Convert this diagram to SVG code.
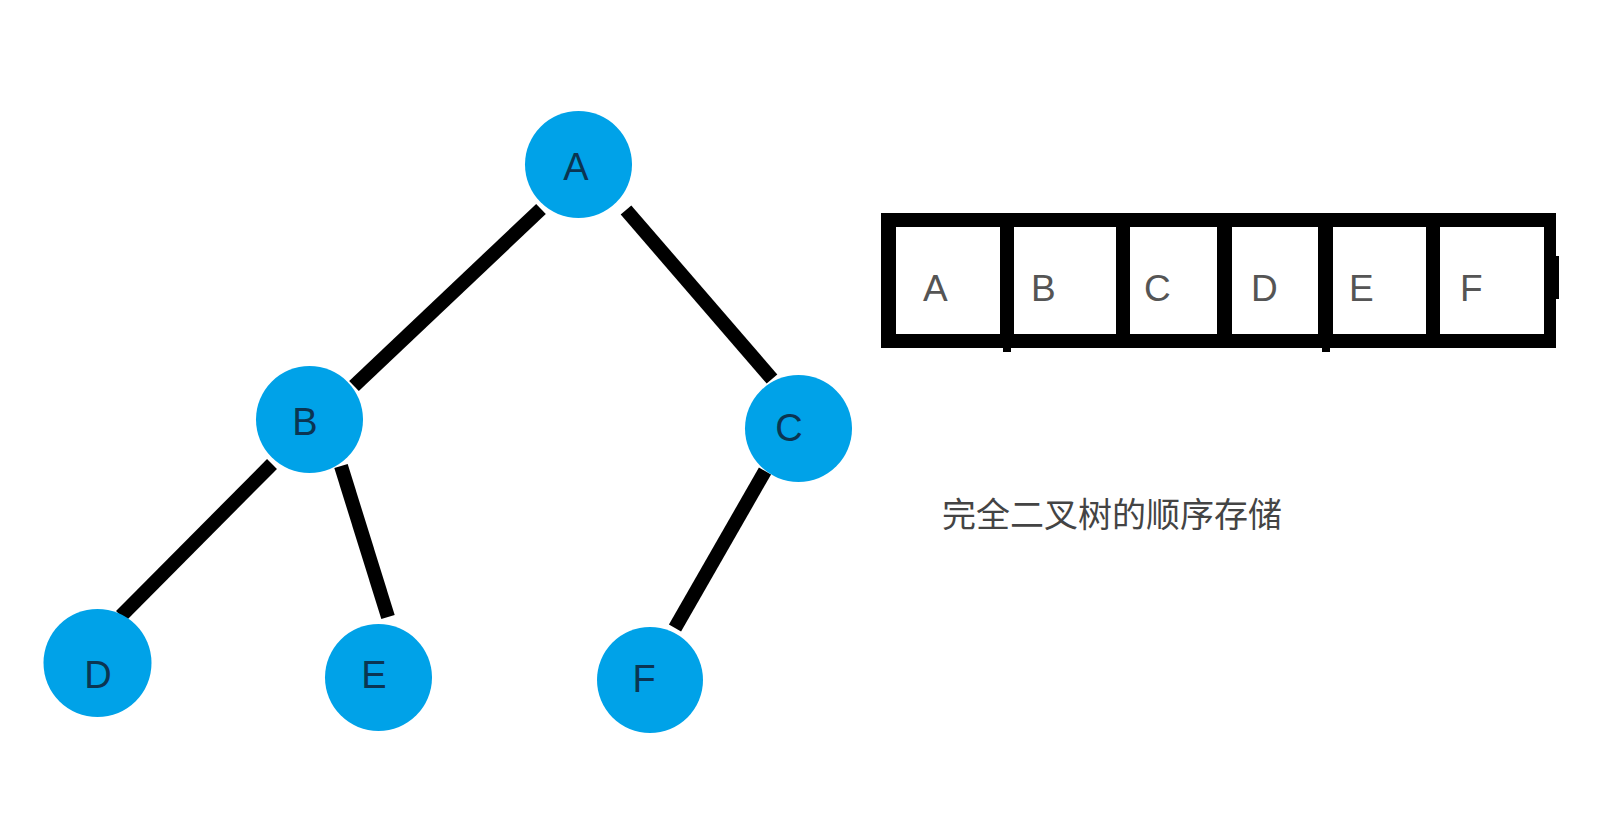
<svg xmlns="http://www.w3.org/2000/svg" width="1611" height="836" viewBox="0 0 1611 836">
<style>
.node{fill:#00a2e8}
.nl{font-family:"Liberation Sans",Arial,sans-serif;font-size:38px;fill:#0b3552;text-anchor:middle}
.edge{stroke:#000;stroke-width:14;stroke-linecap:butt}
.cell{fill:#fff}
.al{font-family:"Liberation Sans",Arial,sans-serif;font-size:37px;fill:#555}
.cap{font-family:"Noto Sans CJK SC",sans-serif;font-size:34px;fill:#444}
</style>
<rect width="1611" height="836" fill="#fff"/>
<g id="connectors">
<line class="edge" x1="541" y1="209" x2="354" y2="386"/>
<line class="edge" x1="626" y1="210" x2="772" y2="379"/>
<line class="edge" x1="272" y1="464" x2="121" y2="616"/>
<line class="edge" x1="341" y1="466" x2="388" y2="617"/>
<line class="edge" x1="765" y1="471" x2="675" y2="628"/>
</g>
<g id="node-A"><circle class="node" cx="578.5" cy="164.5" r="53.5"/><text class="nl" x="576" y="180">A</text></g>
<g id="node-B"><circle class="node" cx="309.5" cy="419.5" r="53.5"/><text class="nl" x="305" y="435">B</text></g>
<g id="node-C"><circle class="node" cx="798.5" cy="428.5" r="53.5"/><text class="nl" x="789" y="441">C</text></g>
<g id="node-D"><circle class="node" cx="97.5" cy="663" r="54"/><text class="nl" x="98" y="688">D</text></g>
<g id="node-E"><circle class="node" cx="378.5" cy="677.5" r="53.5"/><text class="nl" x="374" y="688">E</text></g>
<g id="node-F"><circle class="node" cx="650" cy="680" r="53"/><text class="nl" x="644" y="692">F</text></g>
<g id="array">
<rect x="881" y="213" width="675" height="135" fill="#000"/>
<rect x="1556" y="256" width="3" height="43" fill="#000"/>
<rect x="1003" y="348" width="8" height="4" fill="#000"/>
<rect x="1322" y="348" width="8" height="4" fill="#000"/>
<rect class="cell" x="896" y="227" width="104" height="107"/>
<rect class="cell" x="1014" y="227" width="102" height="107"/>
<rect class="cell" x="1130" y="227" width="87" height="107"/>
<rect class="cell" x="1232" y="227" width="86" height="107"/>
<rect class="cell" x="1333" y="227" width="93" height="107"/>
<rect class="cell" x="1440" y="227" width="104" height="107"/>
<text class="al" x="923" y="301">A</text>
<text class="al" x="1031" y="301">B</text>
<text class="al" x="1144" y="301">C</text>
<text class="al" x="1251" y="301">D</text>
<text class="al" x="1349" y="301">E</text>
<text class="al" x="1460" y="301">F</text>
</g>
<g id="caption"><text class="cap" x="942" y="527">完全二叉树的顺序存储</text></g>
</svg>
